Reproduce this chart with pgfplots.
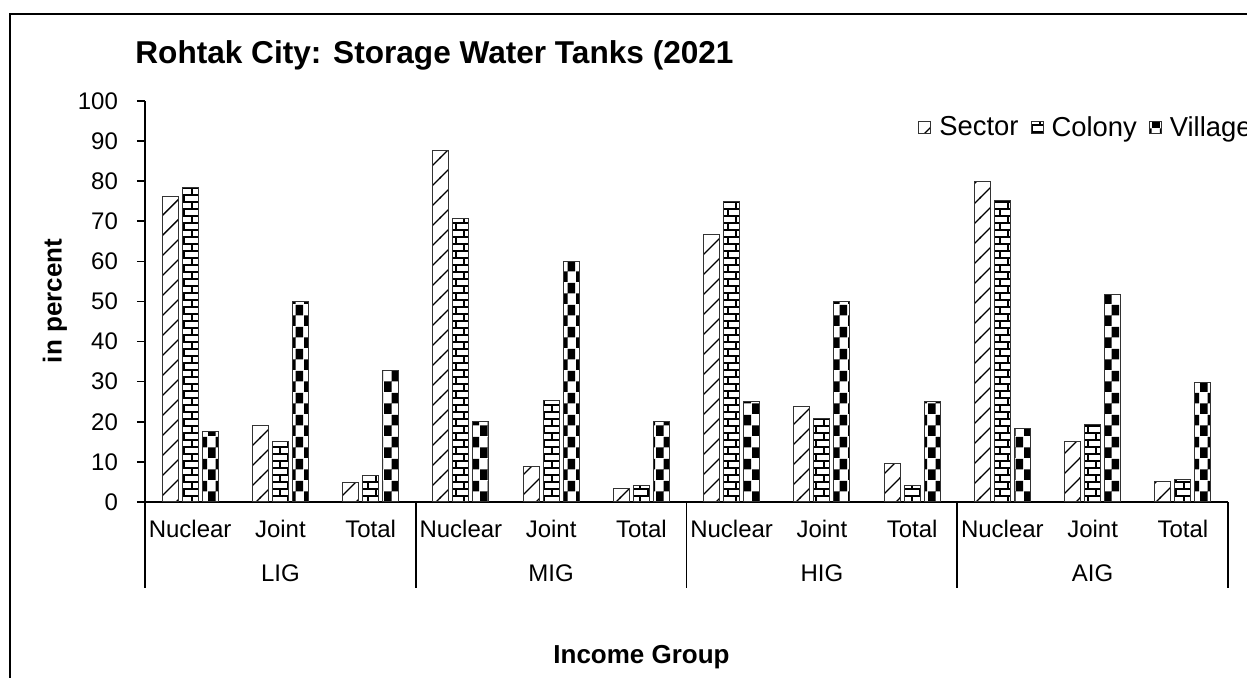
\documentclass[border=0pt]{standalone}
\usepackage{pgfplots}
\pgfplotsset{compat=1.18}
\usepackage{fontspec}
\setmainfont{Liberation Sans}
\usetikzlibrary{patterns.meta}

% fill patterns for the three settlement types
\tikzdeclarepattern{
  name=diagstroke, type=uncolored,
  bounding box={(-0.5pt,-0.5pt) and (10.5pt,10.5pt)},
  tile size={(10pt,10pt)},
  code={\draw[line width=0.7pt] (-0.5pt,-0.5pt) -- (10.5pt,10.5pt);}
}
\tikzdeclarepattern{
  name=brickrows, type=uncolored,
  bounding box={(-0.5pt,-0.5pt) and (8.5pt,7.5pt)},
  tile size={(8pt,7pt)},
  code={\draw[line width=0.8pt] (-0.5pt,0pt) -- (8.5pt,0pt) (-0.5pt,3.5pt) -- (8.5pt,3.5pt)
        (4pt,0pt) -- (4pt,3.5pt) (0pt,3.5pt) -- (0pt,7pt);}
}
\tikzdeclarepattern{
  name=checks, type=uncolored,
  bounding box={(0pt,0pt) and (8pt,11pt)},
  tile size={(8pt,11pt)},
  code={\fill (0pt,0pt) rectangle (4pt,5.5pt) (4pt,5.5pt) rectangle (8pt,11pt);}
}

\begin{document}
\begin{tikzpicture}
\useasboundingbox (0,0) rectangle (623.5pt,339pt);
\draw[line width=1.2pt] (5pt,-5pt) -- (5pt,332pt) -- (640pt,332pt);

\node[anchor=base west, inner sep=0pt, font=\bfseries\fontsize{15.8}{18}\selectfont]
  at (67.5pt,307.4pt) {Rohtak City: Storage Water Tanks (2021};
\node[anchor=base, rotate=90, font=\bfseries\fontsize{13}{15}\selectfont]
  at (30.8pt,188.5pt) {in percent};
\node[anchor=base, font=\bfseries\fontsize{13}{15}\selectfont]
  at (320.75pt,7.25pt) {Income Group};

\begin{axis}[
  at={(72.5pt,88pt)}, anchor=south west,
  scale only axis, width=541.5pt, height=200.5pt,
  ymin=0, ymax=100, xmin=-0.5, xmax=11.5,
  ytick={0,10,...,100},
  xtick={0,...,11},
  xticklabels={Nuclear,Joint,Total,Nuclear,Joint,Total,Nuclear,Joint,Total,Nuclear,Joint,Total},
  axis lines*=left,
  axis line style={line width=0.8pt},
  tick align=outside,
  major tick length=4pt,
  xtick style={draw=none},
  ytick style={line width=0.8pt, black},
  /pgf/number format/assume math mode=true,
  ticklabel style={font=\fontsize{12}{14}\selectfont},
  yticklabel style={xshift=-6pt},
  xticklabel style={yshift=-1.5pt},
  ybar=2pt, bar width=8pt,
  clip=false,
  legend style={at={(0.7137,0.933)}, anchor=west, draw=none, fill=none,
    font=\fontsize{13.7}{16}\selectfont, inner sep=0pt,
    nodes={inner sep=0pt},
    /tikz/every odd column/.append style={column sep=4pt},
    /tikz/every even column/.append style={column sep=6pt}},
  legend columns=3,
  legend image code/.code={\draw[#1] (0pt,-3pt) rectangle (6pt,3pt);},
]
\addplot[draw=black!80, line width=0.5pt, pattern=diagstroke] coordinates {
  (0,76.1) (1,19.1) (2,4.8) (3,87.7) (4,8.8) (5,3.4)
  (6,66.8) (7,23.9) (8,9.6) (9,80.0) (10,15.0) (11,5.1)};
\addplot[draw=black!80, line width=0.5pt, pattern=brickrows] coordinates {
  (0,78.4) (1,15.1) (2,6.7) (3,70.6) (4,25.4) (5,4.0)
  (6,74.9) (7,20.8) (8,4.2) (9,75.1) (10,19.3) (11,5.5)};
\addplot[draw=black!80, line width=0.5pt, pattern=checks] coordinates {
  (0,17.5) (1,50.0) (2,32.7) (3,20.0) (4,60.0) (5,20.0)
  (6,25.0) (7,50.0) (8,25.0) (9,18.3) (10,51.7) (11,29.9)};
\legend{Sector,Colony,Village}

% group separators and group names below the category labels
\pgfplotsinvokeforeach{-0.5,2.5,5.5,8.5,11.5}{
  \draw[line width=0.8pt] (axis cs:#1,0) -- ++(0pt,-43pt);
}
\node[anchor=base, font=\fontsize{12}{14}\selectfont] at (axis cs:1,0) [yshift=-39.9pt] {LIG};
\node[anchor=base, font=\fontsize{12}{14}\selectfont] at (axis cs:4,0) [yshift=-39.9pt] {MIG};
\node[anchor=base, font=\fontsize{12}{14}\selectfont] at (axis cs:7,0) [yshift=-39.9pt] {HIG};
\node[anchor=base, font=\fontsize{12}{14}\selectfont] at (axis cs:10,0) [yshift=-39.9pt] {AIG};
\end{axis}
\end{tikzpicture}
\end{document}
